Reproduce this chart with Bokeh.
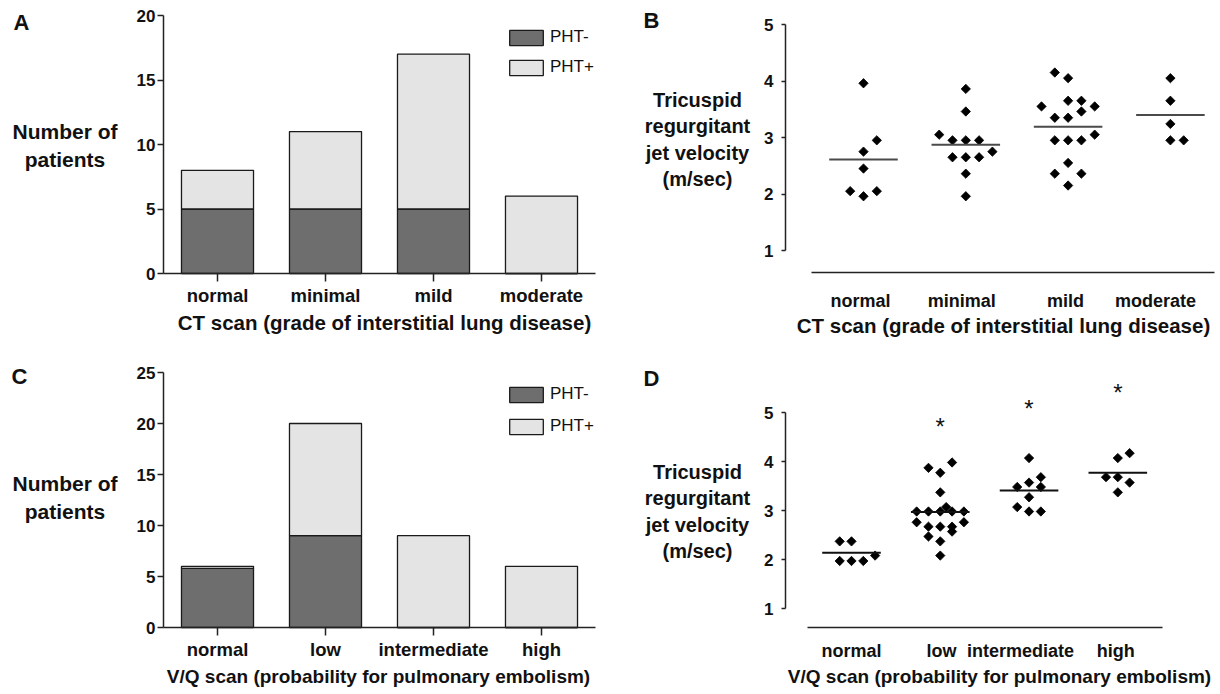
import math
from bokeh.plotting import figure
from bokeh.layouts import column, row
from bokeh.models import (Range1d, FixedTicker, Legend, LegendItem, Label,
                          ColumnDataSource)
from bokeh.embed import file_html
from bokeh.resources import INLINE
from bokeh.core.properties import value

FONT = "Liberation Sans"
TXT = "#111111"

# ---------------- data ----------------
# Panel A: CT scan grade, number of patients
ct_grades = ["normal", "minimal", "mild", "moderate"]
a_pht_neg = [5, 5, 5, 0]
a_pht_pos = [3, 6, 12, 6]

# Panel C: V/Q scan probability, number of patients
vq_probs = ["normal", "low", "intermediate", "high"]
c_pht_neg = [5.8, 9, 0, 0]
c_pht_pos = [0.2, 11, 9, 6]

# Panel B: tricuspid regurgitant jet velocity (m/sec) by CT grade
# values, and the swarm column each point sits in
b_normal = [3.96, 2.95, 2.75, 2.45, 2.05, 1.96, 2.05]
b_normal_col = [0, 1, 0, 0, -1, 0, 1]
b_minimal = [3.86, 3.46, 3.05, 2.95, 2.95, 2.95, 2.75, 2.65, 2.65, 2.65, 2.36, 1.96]
b_minimal_col = [0, 0, -2, -1, 0, 1, 2, -1, 0, 1, 0, 0]
b_mild = [4.15, 4.05, 3.65, 3.65, 3.55, 3.55, 3.46, 3.35, 3.35, 3.05, 2.95, 2.95,
          2.95, 2.55, 2.36, 2.36, 2.15]
b_mild_col = [-1, 0, 0, 1, -2, 2, 1, -1, 0, 2, -1, 0, 1, 0, -1, 1, 0]
b_moderate = [4.05, 3.65, 3.24, 2.95, 2.95]
b_moderate_col = [0, 0, 0, 0, 1]
b_means = [2.61, 2.87, 3.19, 3.40]

# Panel D: tricuspid regurgitant jet velocity (m/sec) by V/Q probability
d_normal = [2.37, 2.37, 1.97, 1.97, 1.97, 2.08]
d_normal_col = [-1, 0, -1, 0, 1, 2]
d_low = [3.87, 3.77, 3.98, 3.37, 3.07, 2.98, 2.98, 2.98, 2.98, 2.98, 2.76, 2.76,
         2.67, 2.67, 2.67, 2.57, 2.47, 2.37, 2.08]
d_low_col = [-1, 0, 1, 0, 0.5, -2, -1, 0, 1, 2, -2, 2, -1, 0, 1, 1, -1, 0, 0]
d_intermediate = [4.07, 3.68, 3.57, 3.48, 3.48, 3.27, 3.07, 2.98, 2.98]
d_intermediate_col = [0, 1, 0, -1, 1, 0, -1, 0, 1]
d_high = [4.07, 4.17, 3.68, 3.68, 3.57, 3.37]
d_high_col = [0, 1, -1, 0, 1, 0]
d_means = [2.14, 2.97, 3.41, 3.77]
d_star_groups = ["low", "intermediate", "high"]
d_star_y = [4.77, 5.15, 5.47]

COL_NEG = "#6e6e6e"
COL_POS = "#e4e4e4"
EDGE = "#1a1a1a"


class Geo:
    """page-pixel <-> data mapping of one panel (frame fills the whole canvas)"""
    def __init__(self, left, top, w, h, xpx, xval, xppu, ypx, yval, yppu):
        self.left, self.top, self.w, self.h = left, top, w, h
        self.xpx, self.xval, self.xppu = xpx, xval, xppu
        self.ypx, self.yval, self.yppu = ypx, yval, yppu

    def fx(self, px):
        return self.xval + (px - self.xpx) / self.xppu

    def fy(self, py):
        return self.yval + (self.ypx - py) / self.yppu

    def xr(self):
        return Range1d(self.fx(self.left), self.fx(self.left + self.w))

    def yr(self):
        return Range1d(self.fy(self.top + self.h), self.fy(self.top))


def make_fig(g):
    p = figure(x_range=g.xr(), y_range=g.yr(), width=g.w, height=g.h,
               min_border=0, output_backend="svg", toolbar_location=None)
    p.xgrid.visible = False
    p.ygrid.visible = False
    p.outline_line_color = None
    p.background_fill_color = "white"
    p.border_fill_color = "white"
    for ax in (p.xaxis, p.yaxis):
        ax.axis_line_color = "#222222"
        ax.axis_line_width = 1.5
        ax.major_tick_line_color = "#222222"
        ax.major_tick_line_width = 1.5
        ax.minor_tick_line_color = None
        ax.major_tick_in = 0
        ax.major_label_text_font = FONT
        ax.major_label_text_font_style = "bold"
        ax.major_label_text_color = TXT
    return p


def add_text(p, g, text, px, py, size, align="center", bold=True):
    p.add_layout(Label(x=g.fx(px), y=g.fy(py), text=text, text_font=FONT,
                       text_font_style="bold" if bold else "normal",
                       text_font_size=size, text_color=TXT,
                       text_align=align, text_baseline="middle",
                       text_line_height=1.2))


def bar_panel(g, cats, neg, pos, ymax, yticks, xlabel, xlabel_size, let, let_xy,
              ylab_xy, xlab_xy, leg_loc, leg_spacing):
    p = make_fig(g)
    xs = [i + 0.5 for i in range(len(cats))]
    src = ColumnDataSource(dict(x=xs, neg=neg, pos=pos))
    rs = p.vbar_stack(["neg", "pos"], x="x", width=0.667, source=src,
                      fill_color=[COL_NEG, COL_POS], line_color=EDGE, line_width=1.3)
    leg = Legend(items=[LegendItem(label="PHT-", renderers=[rs[0]]),
                        LegendItem(label="PHT+", renderers=[rs[1]])],
                 location=leg_loc, orientation="vertical",
                 glyph_width=42, glyph_height=19, label_height=15,
                 label_standoff=3, spacing=leg_spacing, padding=0, margin=0,
                 label_text_font=FONT, label_text_font_size="17px",
                 label_text_color=TXT,
                 border_line_color=None, background_fill_alpha=0)
    p.add_layout(leg)
    # y axis at the left end of the categories
    p.yaxis.fixed_location = 0
    p.yaxis.bounds = (0, ymax)
    p.yaxis.ticker = FixedTicker(ticks=yticks)
    p.yaxis.major_tick_out = 6
    p.yaxis.major_label_text_font_size = "17px"
    p.yaxis.major_label_standoff = 2
    # x axis at zero
    p.xaxis.fixed_location = 0
    p.xaxis.bounds = (0, len(cats))
    p.xaxis.ticker = FixedTicker(ticks=xs)
    p.xaxis.major_label_overrides = {x: c for x, c in zip(xs, cats)}
    p.xaxis.major_tick_out = 8
    p.xaxis.major_label_text_font_size = "18.5px"
    p.xaxis.major_label_standoff = 3
    add_text(p, g, let, let_xy[0], let_xy[1], "22px", align="left")
    add_text(p, g, "Number of\npatients", ylab_xy[0], ylab_xy[1], "21px")
    add_text(p, g, xlabel, xlab_xy[0], xlab_xy[1], xlabel_size)
    return p


def swarm_panel(g, groups, cols, means, cats, label_pos, yaxis_x, xaxis_y, xb,
                step, half, xlabel, xlabel_size, let, let_xy, ylab_xy, xlab_xy,
                label_standoff, mean_color, stars=None):
    p = make_fig(g)
    xs, ys = [], []
    for gi, (vals, cc) in enumerate(zip(groups, cols)):
        for v, c in zip(vals, cc):
            xs.append(gi + 1 + c * step)
            ys.append(v)
    p.scatter(xs, ys, marker="square", size=6.6, angle=math.pi / 4,
              fill_color="black", line_color="black", line_width=0.8)
    centers = [gi + 1 for gi in range(len(means))]
    p.segment(x0=[c - half for c in centers], x1=[c + half for c in centers],
              y0=means, y1=means, line_color=mean_color, line_width=2)
    if stars is not None:
        sg, sy = stars
        sx = [cats.index(s) + 1 for s in sg]
        p.text(x=sx, y=sy, text=["*"] * len(sx), text_font=value(FONT),
               text_font_size="24px", text_align="center", text_baseline="middle",
               text_color=TXT, y_offset=3)
    p.yaxis.fixed_location = yaxis_x
    p.yaxis.bounds = (1, 5)
    p.yaxis.ticker = FixedTicker(ticks=[1, 2, 3, 4, 5])
    p.yaxis.major_tick_out = 4
    p.yaxis.major_label_text_font_size = "17px"
    p.yaxis.major_label_standoff = 8
    p.xaxis.fixed_location = xaxis_y
    p.xaxis.bounds = xb
    p.xaxis.ticker = FixedTicker(ticks=label_pos)
    p.xaxis.major_label_overrides = {t: c for t, c in zip(label_pos, cats)}
    p.xaxis.major_tick_line_color = None
    p.xaxis.major_tick_out = 0
    p.xaxis.major_label_text_font_size = "18px"
    p.xaxis.major_label_standoff = label_standoff
    add_text(p, g, let, let_xy[0], let_xy[1], "22px", align="left")
    add_text(p, g, "Tricuspid\nregurgitant\njet velocity\n(m/sec)",
             ylab_xy[0], ylab_xy[1], "20px")
    add_text(p, g, xlabel, xlab_xy[0], xlab_xy[1], xlabel_size)
    return p


# page geometry (the page is drawn from its top-left corner)
gA = Geo(0, 0, 628, 345, 163, 0, 108, 273, 0, 12.9)
gB = Geo(628, 0, 590, 345, 863, 1, 102.3, 250, 1, 56.5)
gC = Geo(0, 345, 628, 347, 163, 0, 108, 627, 0, 10.2)
gD = Geo(628, 345, 590, 347, 851, 1, 88.77, 608, 1, 49.0)

CT_TITLE = "CT scan (grade of interstitial lung disease)"
VQ_TITLE = "V/Q scan (probability for pulmonary embolism)"

pA = bar_panel(gA, ct_grades, a_pht_neg, a_pht_pos, 20, [0, 5, 10, 15, 20],
               CT_TITLE, "20.5px", "A",
               (13, 22), (64.5, 145), (384, 322), (505, 268), 10)

pC = bar_panel(gC, vq_probs, c_pht_neg, c_pht_pos, 25, [0, 5, 10, 15, 20, 25],
               VQ_TITLE, "19px", "C",
               (11, 376), (64.5, 497), (378, 676), (505, 256), 12)

pB = swarm_panel(gB, [b_normal, b_minimal, b_mild, b_moderate],
                 [b_normal_col, b_minimal_col, b_mild_col, b_moderate_col],
                 b_means, ct_grades, [0.97, 1.96, 2.975, 3.855],
                 gB.fx(785), gB.fy(272), (gB.fx(811), gB.fx(1214)), 0.13, 0.335,
                 CT_TITLE, "20.5px", "B",
                 (643, 20), (697, 139), (1003, 325), 18, "#4a4a4a")

pD = swarm_panel(gD, [d_normal, d_low, d_intermediate, d_high],
                 [d_normal_col, d_low_col, d_intermediate_col, d_high_col],
                 d_means, vq_probs, [1.0, 2.015, 2.905, 3.976],
                 gD.fx(785), gD.fy(627), (gD.fx(807), gD.fx(1162)), 0.133, 0.33,
                 VQ_TITLE, "19px", "D",
                 (643, 378), (697, 511), (999, 676), 13, "#111111",
                 stars=(d_star_groups, d_star_y))

layout = column(row(pA, pB), row(pC, pD))
open("out.html", "w").write(file_html(layout, INLINE))
